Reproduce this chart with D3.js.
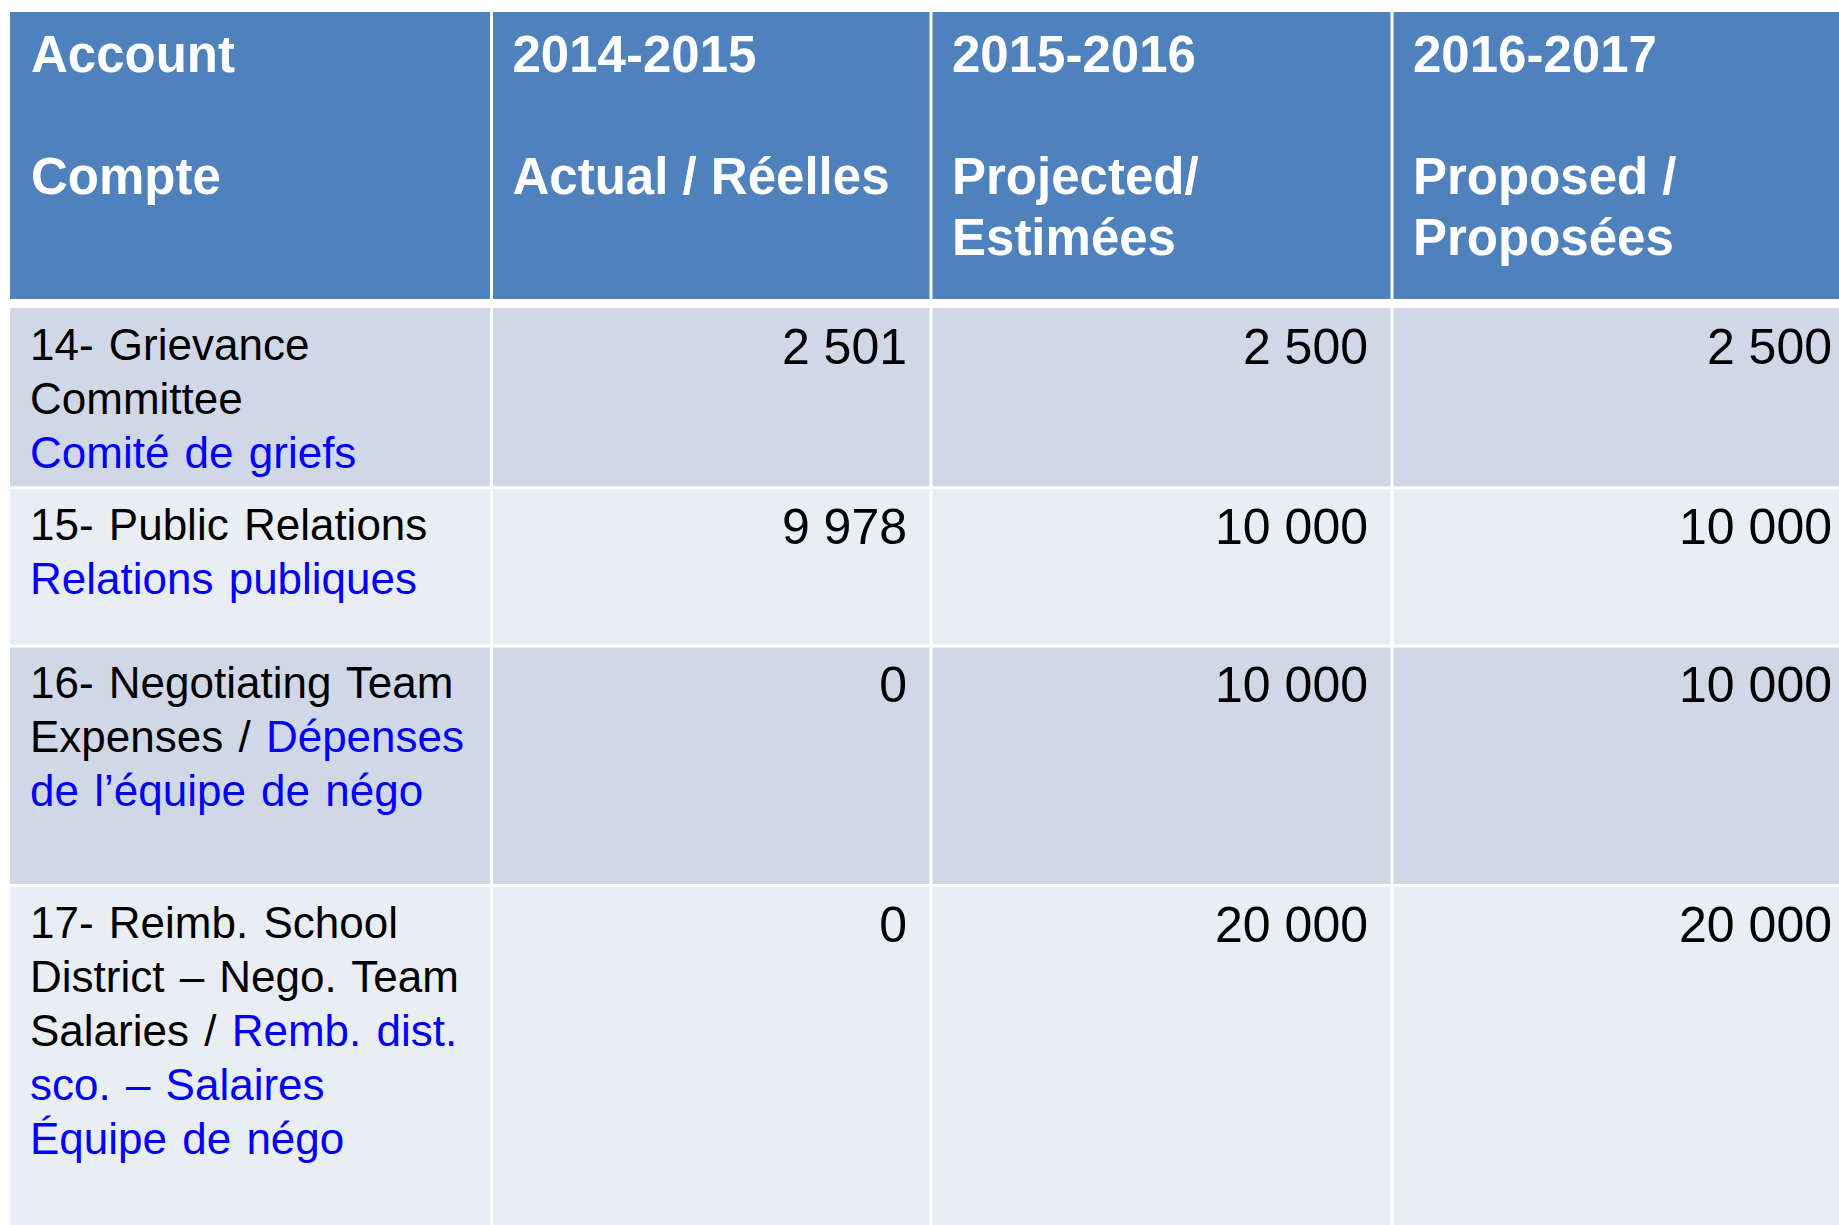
<!DOCTYPE html>
<html>
<head>
<meta charset="utf-8">
<script src="https://cdn.jsdelivr.net/npm/d3@7"></script>
<style>
  html, body { margin: 0; padding: 0; background: #fff; }
  svg { display: block; font-family: "Liberation Sans", Arimo, Arial, sans-serif; }
</style>
</head>
<body>
<div id="chart"></div>
<script>
// table content
const headerYears = ["Account", "2014-2015", "2015-2016", "2016-2017"]
const headerTitles = [["Compte"], ["Actual / Réelles"], ["Projected/", "Estimées"], ["Proposed /", "Proposées"]]

// label lines, each line is a list of [text, lang] pieces (en = black, fr = blue)
const accountLabels = [
  [[["14- Grievance", "en"]], [["Committee", "en"]], [["Comité de griefs", "fr"]]],
  [[["15- Public Relations", "en"]], [["Relations publiques", "fr"]]],
  [[["16- Negotiating Team", "en"]], [["Expenses / ", "en"], ["Dépenses", "fr"]], [["de l’équipe de négo", "fr"]]],
  [[["17- Reimb. School", "en"]], [["District – Nego. Team", "en"]], [["Salaries / ", "en"], ["Remb. dist.", "fr"]],
    [["sco. – Salaires", "fr"]], [["Équipe de négo", "fr"]]]
]
const actual = [2501, 9978, 0, 0]
const projected = [2500, 10000, 10000, 20000]
const proposed = [2500, 10000, 10000, 20000]

// layout
const W = 1839, H = 1225
const colEdges = [10, 491.5, 931, 1392, 1856]
const headTop = 12, headBottom = 299
const rowEdges = [308, 487.8, 646, 885.5, 1240]
const rowFill = ["#D0D8E8", "#E9EDF4"]
const langColor = { en: "#000000", fr: "#0000FF" }

const fmt = d3.formatLocale({ decimal: ",", thousands: " ", grouping: [3], currency: ["", ""] }).format(",d")

const svg = d3.select("#chart").append("svg")
  .attr("width", W).attr("height", H)

// header cells
const head = svg.append("g").attr("class", "header")
head.selectAll("rect")
  .data(headerYears)
  .join("rect")
  .attr("x", (d, i) => colEdges[i] + (i ? 1.5 : 0))
  .attr("y", headTop)
  .attr("width", (d, i) => colEdges[i + 1] - colEdges[i] - (i ? 3 : 1.5))
  .attr("height", headBottom - headTop)
  .attr("fill", "#4F81BD")

// year on line 1, title from line 3 (blank line between)
head.selectAll("text")
  .data(headerYears.map((y, i) => [y, ""].concat(headerTitles[i]).map((t, k) => ({ t, k, c: i }))))
  .join("text")
  .attr("fill", "#fff")
  .attr("font-size", 51)
  .attr("font-weight", "bold")
  .selectAll("tspan")
  .data(d => d.filter(l => l.t))
  .join("tspan")
  .attr("x", d => colEdges[d.c] + 21)
  .attr("y", d => headTop + 60 + d.k * 61)
  .text(d => d.t)

// body rows
const rows = svg.append("g").attr("class", "rows")
  .selectAll("g")
  .data(accountLabels.map((lab, i) => ({ lab, vals: [actual[i], projected[i], proposed[i]], i })))
  .join("g")

rows.selectAll("rect")
  .data(r => d3.range(4).map(c => ({ c, r: r.i })))
  .join("rect")
  .attr("x", d => colEdges[d.c] + (d.c ? 1.5 : 0))
  .attr("y", d => rowEdges[d.r] + (d.r ? 1.5 : 0))
  .attr("width", d => colEdges[d.c + 1] - colEdges[d.c] - (d.c ? 3 : 1.5))
  .attr("height", d => rowEdges[d.r + 1] - rowEdges[d.r] - (d.r ? 3 : 1.5))
  .attr("fill", d => rowFill[d.r % 2])

rows.append("text")
  .attr("font-size", 44)
  .attr("word-spacing", 3)
  .selectAll("tspan.line")
  .data(r => r.lab.map((line, k) => ({ line, k, r: r.i })))
  .join("tspan")
  .attr("class", "line")
  .attr("x", colEdges[0] + 20)
  .attr("y", d => rowEdges[d.r] + 52 + d.k * 54)
  .selectAll("tspan")
  .data(d => d.line)
  .join("tspan")
  .attr("fill", d => langColor[d[1]])
  .text(d => d[0])

rows.selectAll("text.num")
  .data(r => r.vals.map((v, c) => ({ v, c, r: r.i })))
  .join("text")
  .attr("class", "num")
  .attr("x", d => colEdges[d.c + 2] - 24)
  .attr("y", d => rowEdges[d.r] + 56)
  .attr("text-anchor", "end")
  .attr("font-size", 50)
  .attr("fill", "#000")
  .text(d => fmt(d.v))
</script>
</body>
</html>
